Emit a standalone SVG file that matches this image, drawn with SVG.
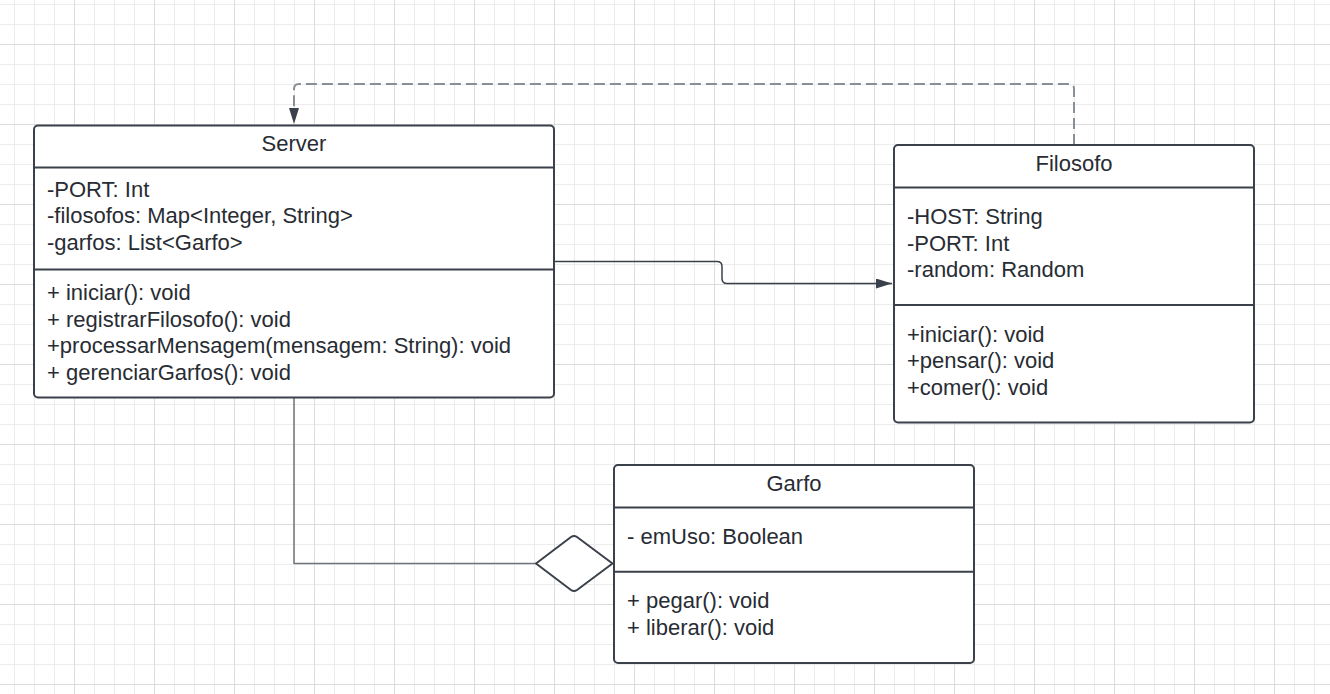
<svg xmlns="http://www.w3.org/2000/svg" width="1330" height="694" viewBox="0 0 1330 694">
<style>
.box{fill:#ffffff;stroke:#3a414a;stroke-width:2}
.div{stroke:#3a414a;stroke-width:2;fill:none}
.t{font-family:"Liberation Sans",Arial,sans-serif;font-size:22px;fill:#282c33}
.c{text-anchor:middle}
.ln{fill:none;stroke:#3a414a;stroke-width:1.5;stroke-linejoin:round}
.dash{stroke-dasharray:11 5;stroke:#8a8f96;stroke-width:2}
.gray{stroke:#6f747b}
</style>
<defs>
<pattern id="grid" patternUnits="userSpaceOnUse" x="-6" y="-36" width="80" height="80">
<path d="M20.5 0V80M40.5 0V80M60.5 0V80M0 20.5H80M0 40.5H80M0 60.5H80" stroke="#ececec" stroke-width="1" fill="none"/>
<path d="M0.5 0V80M0 0.5H80" stroke="#dcdcdc" stroke-width="1" fill="none"/>
</pattern>
<marker id="arrow" viewBox="0 0 16 10" refX="16" refY="5" markerWidth="16" markerHeight="10" markerUnits="userSpaceOnUse" orient="auto">
<path d="M0 0L16 5L0 10Z" fill="#3a414a"/>
</marker>
</defs>
<rect width="1330" height="694" fill="#ffffff"/>
<rect width="1330" height="694" fill="url(#grid)" shape-rendering="crispEdges"/>

<g id="connectors">
<path class="ln dash" d="M1074 145V89Q1074 84 1069 84H299Q294 84 294 89V110" />
<path d="M289 108L299 108L294 124Z" fill="#3a414a"/>
<path class="ln" d="M554 261.5H717Q722 261.5 722 266.5V278.5Q722 283.5 727 283.5H892" marker-end="url(#arrow)"/>
<path class="ln gray" d="M294 398V563.5H536"/>
<path d="M536 563.5L571 537Q574 535 577 537L612.5 563.5L577 590Q574 592 571 590Z" fill="#ffffff" stroke="#3a414a" stroke-width="2" stroke-linejoin="round"/>
</g>

<g id="node-server">
<rect class="box" x="34" y="125.5" width="520" height="272" rx="4"/>
<path class="div" d="M34 167.5H554M34 269.5H554"/>
<text class="t c" x="294" y="151">Server</text>
<text class="t" x="47" y="196.5">-PORT: Int</text>
<text class="t" x="47" y="223">-filosofos: Map&lt;Integer, String&gt;</text>
<text class="t" x="47" y="249.5">-garfos: List&lt;Garfo&gt;</text>
<text class="t" x="47" y="300">+ iniciar(): void</text>
<text class="t" x="47" y="326.5">+ registrarFilosofo(): void</text>
<text class="t" x="47" y="353">+processarMensagem(mensagem: String): void</text>
<text class="t" x="47" y="379.5">+ gerenciarGarfos(): void</text>
</g>

<g id="node-filosofo">
<rect class="box" x="894" y="145" width="360" height="277.5" rx="4"/>
<path class="div" d="M894 187.5H1254M894 305H1254"/>
<text class="t c" x="1074" y="170.7">Filosofo</text>
<text class="t" x="907" y="224.3">-HOST: String</text>
<text class="t" x="907" y="251">-PORT: Int</text>
<text class="t" x="907" y="277.3">-random: Random</text>
<text class="t" x="907" y="341.7">+iniciar(): void</text>
<text class="t" x="907" y="368.3">+pensar(): void</text>
<text class="t" x="907" y="395">+comer(): void</text>
</g>

<g id="node-garfo">
<rect class="box" x="614" y="465" width="360" height="198" rx="4"/>
<path class="div" d="M614 507.5H974M614 571.7H974"/>
<text class="t c" x="794" y="490.7">Garfo</text>
<text class="t" x="627" y="544.3">- emUso: Boolean</text>
<text class="t" x="627" y="608.3">+ pegar(): void</text>
<text class="t" x="627" y="635">+ liberar(): void</text>
</g>
</svg>
